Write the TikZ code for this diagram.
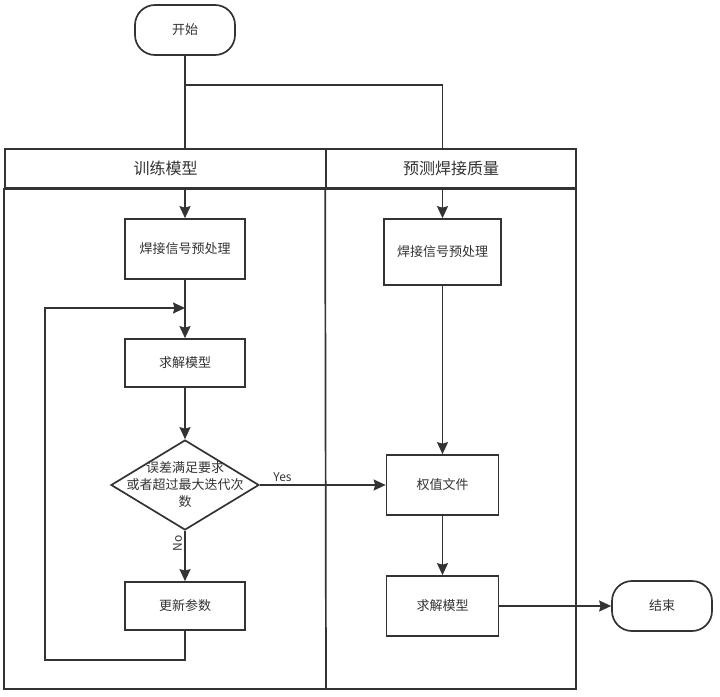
\documentclass[tikz,border=0pt]{standalone}
\usepackage{fontspec}
\newfontfamily\cjkfont{Noto Sans CJK SC}
\usetikzlibrary{arrows.meta,shapes.geometric}
\definecolor{ink}{HTML}{333333}

\begin{document}
\begin{tikzpicture}[x=1pt,y=-1pt, color=ink, line width=1.7pt,
  every node/.style={font=\cjkfont\fontsize{13}{17}\selectfont},
  box/.style={draw, rectangle, fill=white, inner sep=0pt, minimum width=120pt, minimum height=48pt},
  term/.style={box, rounded corners=20pt, minimum width=100pt, minimum height=50pt},
  lanehead/.style={draw, rectangle, fill=white, inner sep=0pt, minimum height=39pt, font=\cjkfont\fontsize{16}{19}\selectfont},
  arr/.style={-{Stealth[length=12pt,width=11pt,inset=1.5pt]}}]
\useasboundingbox (0,0) rectangle (720,696);

% nodes
\node[term] (start) at (185,30) {开始};
\node[box, minimum height=60pt] (pre1) at (185,249) {焊接信号预处理};
\node[box] (solve1) at (185,363) {求解模型};
\node[diamond, draw, fill=white, inner sep=0pt, minimum width=148pt, minimum height=90pt] (judge) at (185,485) {};
\node[align=center, inner sep=0pt] (judgetxt) at (judge) {误差满足要求\\或者超过最大迭代次\\数};
\node[box] (update) at (185,606) {更新参数};
\node[box, minimum width=117pt, minimum height=66pt] (pre2) at (442.5,252) {焊接信号预处理};
\node[box, minimum width=112pt, minimum height=60pt] (weight) at (442.5,485) {权值文件};
\node[box, minimum width=112pt, minimum height=60pt] (solve2) at (442.5,606) {求解模型};
\node[term] (stop) at (662,606) {结束};
\coordinate (fork) at (442.5,85);
\coordinate (loopin) at (185,308);

% connectors
\draw[arr] (start.south) -- (pre1.north);
\draw[arr] (start.south) |- (fork) -- (pre2.north);
\draw[arr] (pre1) -- (solve1);
\draw[arr] (solve1) -- (judge);
\draw[arr] (judge) -- node[pos=0.25, rotate=90, above, inner sep=2pt, font=\cjkfont\fontsize{12}{14}\selectfont] {No} (update);
\draw[arr] (judge.east) -- node[pos=0.18, above, inner sep=3pt, font=\cjkfont\fontsize{12}{14}\selectfont] {Yes} (weight.west);
\draw[arr] (update.south) -- ++(0,29) -| (45,308) -- (loopin);
\draw[arr] (pre2) -- (weight);
\draw[arr] (weight) -- (solve2);
\draw[arr] (solve2) -- (stop);

% swimlanes
\node[lanehead, minimum width=321pt] (lane1) at (165.5,168.5) {训练模型};
\node[lanehead, minimum width=250pt] (lane2) at (451,168.5) {预测焊接质量};
\draw (lane1.south west) rectangle (576,689);
\draw (lane2.south west) -- (326,689);
\end{tikzpicture}
\end{document}
